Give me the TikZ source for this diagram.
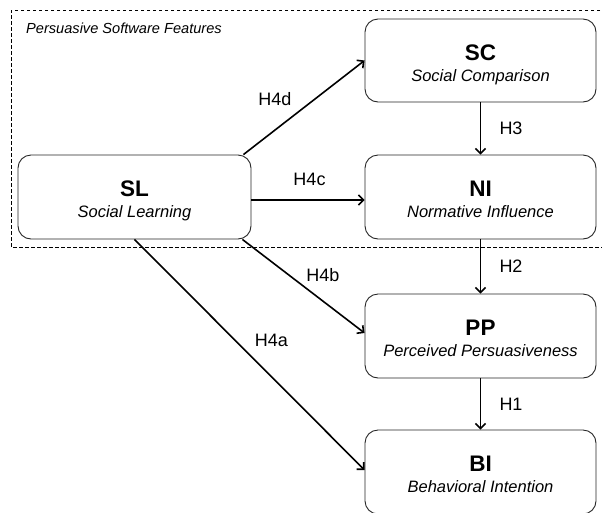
\documentclass[tikz,border=0pt]{standalone}
\usepackage{fontspec}
\setmainfont{Liberation Sans}
\usetikzlibrary{arrows.meta,calc}
\tikzset{
  box/.style={draw=black!85, line width=0.9pt, rounded corners=13pt, rectangle, minimum width=231pt, minimum height=84pt, inner sep=0pt},
  abbr/.style={anchor=base, inner sep=0pt, font=\fontsize{22.5}{26}\selectfont\bfseries},
  full/.style={anchor=base, inner sep=0pt, font=\fontsize{16.5}{20}\selectfont\itshape},
  hyp/.style={inner sep=0pt, font=\fontsize{18}{20}\selectfont},
  arr/.style={line width=1.6pt, -{Straight Barb[length=5pt,width=10pt,line width=1.6pt]}},
  frame/.style={line width=0.9pt, dash pattern=on 3.5pt off 2.5pt}
}
\begin{document}
\begin{tikzpicture}[x=1pt,y=-1pt]
\useasboundingbox (0,0) rectangle (602,512);
\draw[frame] (606,10) -- (11,10) -- (11,247) -- (606,247);
\node[full, anchor=base west, font=\fontsize{14.6}{16}\selectfont\itshape] (title) at (26,33.5) {Persuasive Software Features};

\node[box, minimum width=233pt] (sl) at (134.5,197) {};
\node[box, minimum height=83pt] (sc) at (480.5,60.5) {};
\node[box] (ni) at (480.5,197) {};
\node[box] (pp) at (480.5,336) {};
\node[box] (bi) at (480.5,472) {};

\foreach \n/\a/\f in {sl/SL/Social Learning, sc/SC/Social Comparison, ni/NI/Normative Influence, pp/PP/Perceived Persuasiveness, bi/BI/Behavioral Intention}{
  \node[abbr] (\n-a) at ($(\n.center)+(0,-0.5)$) {\a};
  \node[full] (\n-f) at ($(\n.center)+(0,20.5)$) {\f};
}

\coordinate (slne) at ([xshift=-8pt]sl.north east);
\coordinate (slse) at ([xshift=-9pt]sl.south east);
\draw[arr] (slne) -- (sc.west);
\draw[arr] ([yshift=-3pt]sl.east) -- ([yshift=-3pt]ni.west);
\draw[arr] (slse) -- ([yshift=3pt]pp.west);
\draw[arr] (sl.south) -- ([yshift=2pt]bi.west);
\draw[arr] (sc.south) -- (ni.north);
\draw[arr] (ni.south) -- (pp.north);
\draw[arr] (pp.south) -- (bi.north);

\node[hyp] (h4d) at (275,99) {H4d};
\node[hyp] (h4c) at (309.5,179) {H4c};
\node[hyp] (h4b) at (323,275) {H4b};
\node[hyp] (h4a) at (271.5,340) {H4a};
\node[hyp] (h3) at (511,128.5) {H3};
\node[hyp] (h2) at (511,266.5) {H2};
\node[hyp] (h1) at (511,404) {H1};
\end{tikzpicture}
\end{document}
